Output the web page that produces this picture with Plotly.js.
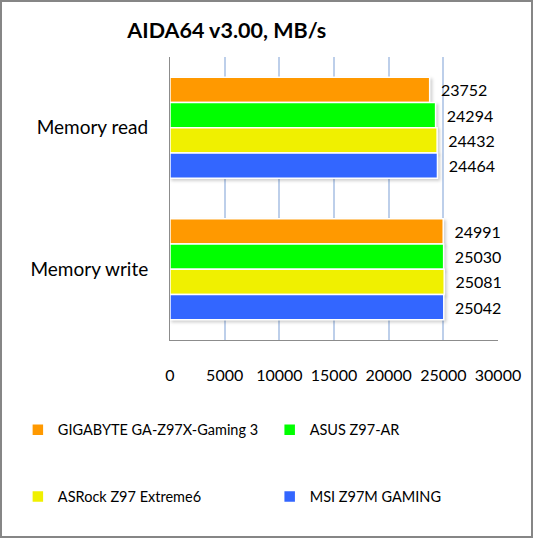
<!DOCTYPE html>
<html>
<head>
<meta charset="utf-8">
<script src="https://cdn.plot.ly/plotly-3.0.1.min.js"></script>
<style>
  html, body { margin: 0; padding: 0; background: #fff; }
  #frame {
    position: absolute; left: 0; top: 0;
    width: 533px; height: 538px;
    box-sizing: border-box;
    border: 2px solid #868686;
  }
  #chart { width: 529px; height: 534px; }
  .barlayer .point path { filter: drop-shadow(2px 2px 1.5px rgba(0,0,0,0.18)); }
</style>
</head>
<body>
<div id="frame"><div id="chart"></div></div>
<script>
// ─── Data ─────────────────────────────────────────────────────────────────────
const categories = ['Memory read', 'Memory write'];
const boards = ['GIGABYTE GA-Z97X-Gaming 3', 'ASUS Z97-AR', 'ASRock Z97 Extreme6', 'MSI Z97M GAMING'];
const gigabyte = [23752, 24991];
const asus = [24294, 25030];
const asrock = [24432, 25081];
const msi = [24464, 25042];
const xTicks = [0, 5000, 10000, 15000, 20000, 25000, 30000];

const colors = ['#FF9900', '#00FF00', '#F0F000', '#3366FF'];
const series = [gigabyte, asus, asrock, msi];
const FONT = 'Lato, "Liberation Sans", sans-serif';

// one legend per board so each entry sits in its own slot of the 2x2 grid
const legendIds = ['legend', 'legend2', 'legend3', 'legend4'];
const legendPos = [
    { x: 0.030, y: 0.199 },
    { x: 0.506, y: 0.199 },
    { x: 0.030, y: 0.074 },
    { x: 0.506, y: 0.074 },
];

const traces = series.map((vals, i) => ({
    type: 'bar',
    orientation: 'h',
    name: boards[i],
    y: categories,
    x: vals,
    text: vals.map(v => '\u00a0\u00a0' + v),
    textposition: 'outside',
    constraintext: 'none',
    cliponaxis: false,
    textfont: { family: FONT, size: 16, color: '#000' },
    marker: { color: colors[i], line: { color: '#ffffff', width: 1.5 } },
    legend: legendIds[i],
    hoverinfo: 'x+name',
}));

const layout = {
    width: 529,
    height: 534,
    paper_bgcolor: '#ffffff',
    plot_bgcolor: '#ffffff',
    font: { family: FONT, size: 15, color: '#000' },
    // legends live in the margin; don't let them push it around
    margin: { l: 168, r: 33, t: 55, b: 196, autoexpand: false },
    title: {
        text: '<b>AIDA64 v3.00, MB/s</b>',
        font: { family: FONT, size: 21.5, color: '#000' },
        xref: 'container', yref: 'container',
        x: 0.425, xanchor: 'center',
        y: 0.947, yanchor: 'middle',
    },
    barmode: 'group',
    bargap: 0.285,
    bargroupgap: 0,
    showlegend: true,
    xaxis: {
        range: [0, 30000],
        tickvals: xTicks,
        ticktext: xTicks.map(String),
        showgrid: true,
        gridcolor: '#BDCFEA',
        gridwidth: 2,
        zeroline: false,
        showline: true,
        linecolor: '#8C8C8C',
        linewidth: 1,
        ticks: '',
        ticklabelstandoff: 21,
        tickfont: { family: FONT, size: 16, color: '#000' },
        fixedrange: true,
    },
    yaxis: {
        autorange: 'reversed',
        showgrid: false,
        zeroline: false,
        showline: true,
        linecolor: '#8C8C8C',
        linewidth: 1,
        ticks: '',
        ticklabelstandoff: 17,
        tickfont: { family: FONT, size: 19, color: '#000' },
        fixedrange: true,
    },
};

legendIds.forEach((id, i) => {
    layout[id] = {
        xref: 'container', yref: 'container',
        x: legendPos[i].x, xanchor: 'left',
        y: legendPos[i].y, yanchor: 'middle',
        bgcolor: 'rgba(0,0,0,0)',
        font: { family: FONT, size: 14.5, color: '#000' },
        itemwidth: 30,
    };
});

Plotly.newPlot('chart', traces, layout, { displayModeBar: false, staticPlot: true });
</script>
</body>
</html>
